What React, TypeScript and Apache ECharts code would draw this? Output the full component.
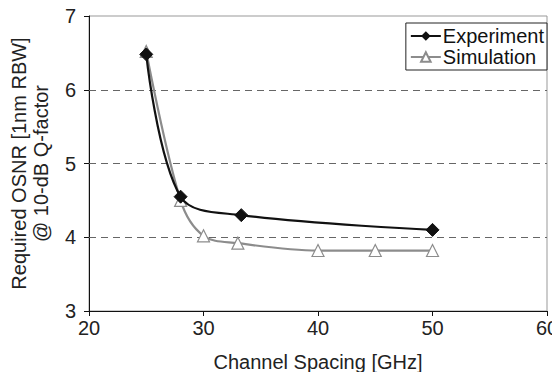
import React, { useEffect, useRef } from "react";
import * as echarts from "echarts";

const expX = [25, 28, 33.3, 50];
const expY = [6.48, 4.55, 4.3, 4.1];
const simX = [25, 28, 30, 33, 40, 45, 50];
const simY = [6.52, 4.5, 4.02, 3.92, 3.82, 3.82, 3.82];
const gridValues = [4, 5, 6];
const font = "Liberation Sans, Arial, sans-serif";

export default function App() {
  const ref = useRef<HTMLDivElement>(null);
  useEffect(() => {
    const chart = echarts.init(ref.current!, null, { renderer: "svg" });
    chart.setOption({
      animation: false,
      backgroundColor: "#fff",
      grid: {
        left: 89, right: 13, top: 16, bottom: 69,
        show: true, borderColor: "#999", borderWidth: 1,
        containLabel: false, outerBoundsMode: "none",
      },
      legend: {
        orient: "vertical",
        right: 13,
        top: 23,
        backgroundColor: "#fff",
        borderColor: "#222",
        borderWidth: 1,
        padding: [3, 3, 3, 4],
        itemWidth: 30,
        itemHeight: 12,
        itemGap: 1,
        textStyle: { fontFamily: font, fontSize: 20, color: "#111", padding: [0, 0, 0, -3] },
        data: ["Experiment", "Simulation"],
      },
      xAxis: {
        type: "value",
        min: 20,
        max: 60,
        interval: 10,
        name: "Channel Spacing [GHz]",
        nameLocation: "middle",
        nameGap: 41,
        nameTextStyle: { fontFamily: font, fontSize: 20, color: "#222" },
        axisLine: { show: true, lineStyle: { color: "#111", width: 1 } },
        axisTick: { show: true, length: 5, lineStyle: { color: "#111" } },
        axisLabel: { fontFamily: font, fontSize: 20, color: "#222", margin: 7 },
        splitLine: { show: false },
      },
      yAxis: {
        type: "value",
        min: 3,
        max: 7,
        interval: 1,
        name: "Required OSNR [1nm RBW]\n@ 10-dB Q-factor",
        nameLocation: "middle",
        nameGap: 37,
        nameTextStyle: { fontFamily: font, fontSize: 20, color: "#222", lineHeight: 22, align: "center" },
        axisLine: { show: true, lineStyle: { color: "#111", width: 1 } },
        axisTick: { show: true, length: 5, lineStyle: { color: "#111" } },
        axisLabel: { fontFamily: font, fontSize: 20, color: "#222", margin: 13 },
        splitLine: { show: false },
      },
      series: [
        {
          name: "Simulation",
          type: "line",
          data: simX.map((x, i) => [x, simY[i]]),
          smooth: 0.35,
          symbol: "triangle",
          symbolSize: 12,
          showAllSymbol: true,
          lineStyle: { color: "#8c8c8c", width: 2.2 },
          itemStyle: { color: "#fff", borderColor: "#8c8c8c", borderWidth: 1.2 },
          z: 2,
          markLine: {
            silent: true,
            symbol: "none",
            label: { show: false },
            lineStyle: { type: [7, 5], color: "#666", width: 1.2 },
            data: gridValues.map((v) => ({ yAxis: v })),
            z: 1,
          },
        },
        {
          name: "Experiment",
          type: "line",
          data: expX.map((x, i) => [x, expY[i]]),
          smooth: 0.35,
          symbol: "diamond",
          symbolSize: 13,
          lineStyle: { color: "#111", width: 2.2 },
          itemStyle: { color: "#111", borderColor: "#111" },
          z: 3,
        },
      ],
    });
    return () => chart.dispose();
  }, []);
  return <div ref={ref} style={{ width: 560, height: 380, margin: -8 }} />;
}
